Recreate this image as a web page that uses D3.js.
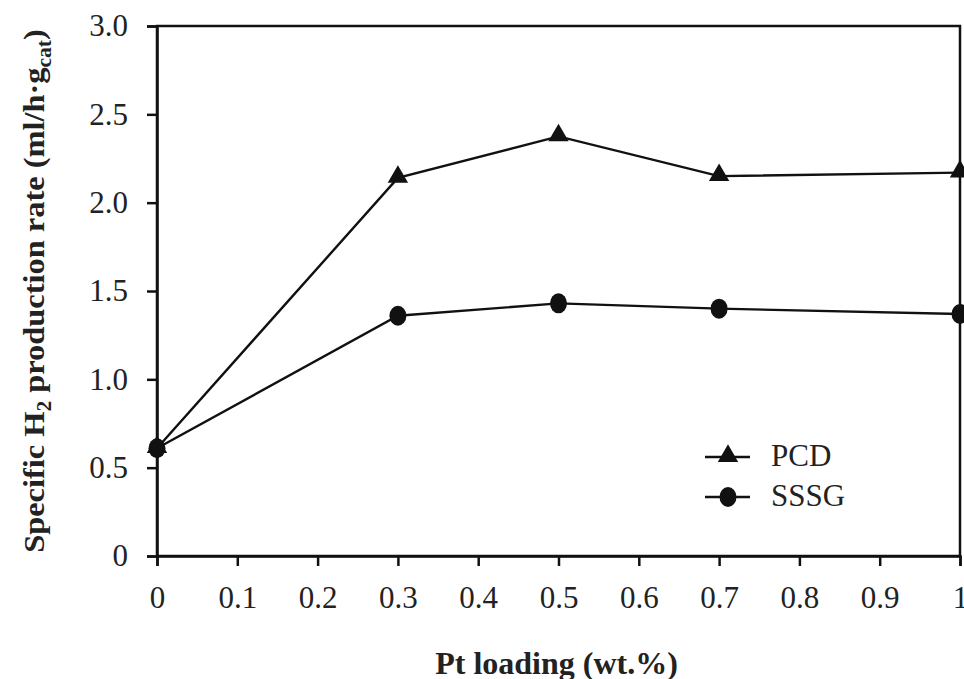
<!DOCTYPE html>
<html><head><meta charset="utf-8">
<script src="https://cdn.jsdelivr.net/npm/d3@7"></script>
<style>body{margin:0;background:#fff}svg{display:block}</style>
</head><body>
<script>
const loading = [0, 0.3, 0.5, 0.7, 1.0];
const pcd = [0.61, 2.14, 2.375, 2.15, 2.17];
const sssg = [0.61, 1.36, 1.43, 1.40, 1.37];
const xTicks = [0, 0.1, 0.2, 0.3, 0.4, 0.5, 0.6, 0.7, 0.8, 0.9, 1];
const yTicks = [0, 0.5, 1.0, 1.5, 2.0, 2.5, 3.0];
const seriesNames = ["PCD", "SSSG"];

const W = 964, H = 679;
const m = {left: 157, right: 4, top: 26, bottom: 123};
const svg = d3.select("body").append("svg").attr("width", W).attr("height", H);
const x = d3.scaleLinear().domain([0, 1]).range([m.left, W - m.right]);
const y = d3.scaleLinear().domain([0, 3]).range([H - m.bottom, m.top]);
const font = "'Liberation Serif', 'Times New Roman', serif";

// frame
svg.append("rect").attr("x", x(0)).attr("y", y(3)).attr("width", x(1) - x(0)).attr("height", y(0) - y(3))
  .attr("fill", "none").attr("stroke", "#111").attr("stroke-width", 2.5);

const xAxis = svg.append("g").attr("transform", `translate(0,${y(0)})`)
  .call(d3.axisBottom(x).tickValues(xTicks).tickSize(10).tickPadding(20)
    .tickFormat(d => d === 0 ? "0" : d === 1 ? "1" : d3.format(".1f")(d)));
const yAxis = svg.append("g").attr("transform", `translate(${x(0)},0)`)
  .call(d3.axisLeft(y).tickValues(yTicks).tickSize(10).tickPadding(19)
    .tickFormat(d => d === 0 ? "0" : d3.format(".1f")(d)));
[xAxis, yAxis].forEach(a => {
  a.attr("font-size", null).attr("font-family", null);
  a.select(".domain").attr("stroke", "#111").attr("stroke-width", 2.5);
  a.selectAll(".tick line").attr("stroke", "#111").attr("stroke-width", 2.5);
  a.selectAll(".tick text").style("font-family", font).style("font-size", "31px").attr("fill", "#222");
});

const line = d3.line().x((d, i) => x(loading[i])).y(d => y(d));
[pcd, sssg].forEach(s => {
  svg.append("path").datum(s).attr("d", line).attr("fill", "none").attr("stroke", "#111").attr("stroke-width", 2.4);
});
const tri = d3.symbol().type(d3.symbolTriangle).size(180);
svg.append("g").selectAll("path").data(pcd).join("path")
  .attr("transform", (d, i) => `translate(${x(loading[i])},${y(d) - 1})`).attr("d", tri).attr("fill", "#111");
svg.append("g").selectAll("ellipse").data(sssg).join("ellipse")
  .attr("cx", (d, i) => x(loading[i])).attr("cy", d => y(d)).attr("rx", 8.5).attr("ry", 10).attr("fill", "#111");

// legend
const lg = svg.append("g");
[[457, "tri"], [497, "circ"]].forEach(([ly, t], k) => {
  lg.append("line").attr("x1", 705).attr("x2", 750).attr("y1", ly).attr("y2", ly).attr("stroke", "#111").attr("stroke-width", 2.4);
  if (t === "tri") lg.append("path").attr("transform", `translate(728,${ly - 1})`).attr("d", tri).attr("fill", "#111");
  else lg.append("ellipse").attr("cx", 728).attr("cy", ly).attr("rx", 8.5).attr("ry", 10).attr("fill", "#111");
  lg.append("text").attr("x", 771).attr("y", ly + 9).style("font-family", font).style("font-size", "31px").attr("fill", "#222").text(seriesNames[k]);
});

// axis titles
svg.append("text").attr("x", (x(0) + x(1)) / 2 - 2).attr("y", 674).attr("text-anchor", "middle")
  .style("font-family", font).attr("font-weight", "bold").style("font-size", "32px").attr("fill", "#222").text("Pt loading (wt.%)");
const yl = svg.append("text").attr("transform", `translate(44,${(y(0) + y(3)) / 2}) rotate(-90) scale(1.08,1)`).attr("text-anchor", "middle")
  .style("font-family", font).attr("font-weight", "bold").style("font-size", "30px").attr("fill", "#222");
yl.append("tspan").text("Specific H");
yl.append("tspan").style("font-size", "20px").attr("dy", 7).text("2");
yl.append("tspan").attr("dy", -7).text(" production rate (ml/h·g");
yl.append("tspan").style("font-size", "20px").attr("dy", 7).text("cat");
yl.append("tspan").attr("dy", -7).text(")");
</script>
</body></html>
